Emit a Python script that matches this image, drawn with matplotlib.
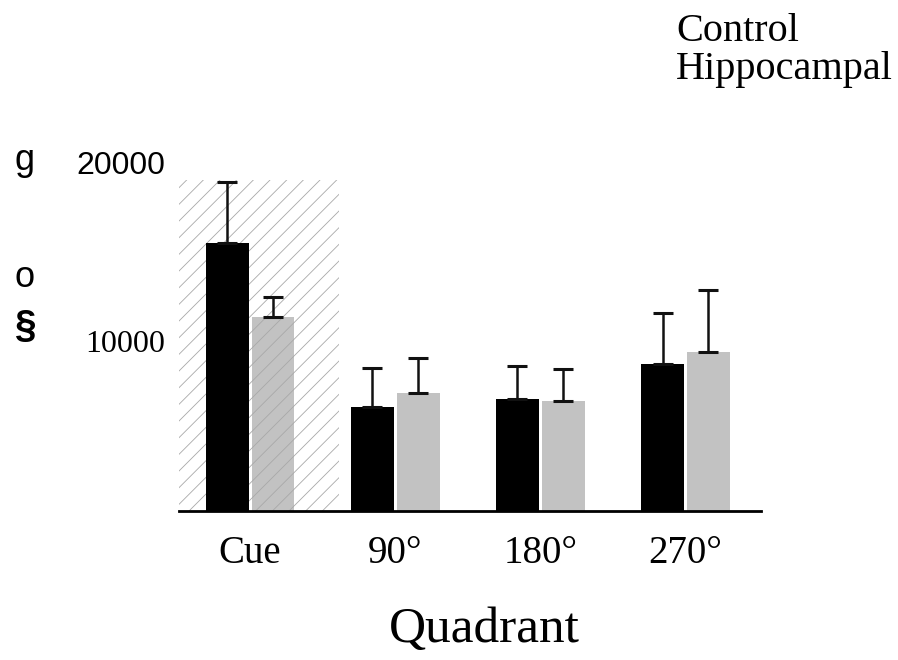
import numpy as np
import matplotlib.pyplot as plt
from matplotlib.patches import Rectangle
from matplotlib.transforms import ScaledTranslation

quadrants = ['Cue', '90°', '180°', '270°']
control = [15050, 5850, 6300, 8250]
control_err = [3450, 2200, 1850, 2850]
hippocampal = [10900, 6650, 6200, 8950]
hippocampal_err = [1100, 1950, 1800, 3450]
series_names = ['Control', 'Hippocampal']
yticks = [10000, 20000]
yticklabels = ['10000', '20000']
# shaded target zone behind the cue quadrant (x from, x to, height)
zone = [-0.49, 0.61, 18600]

plt.rcParams['hatch.linewidth'] = 0.6

fig = plt.figure(figsize=(8.98, 6.60), dpi=100)
ax = fig.add_axes([179 / 898, 149 / 660, 582 / 898, 356 / 660])

x = np.arange(len(quadrants))
w = 0.295
off = 0.158

# zone hatch sits over the grey bars but under the black ones
b1 = ax.bar(x - off, control, width=w, color='black', linewidth=0, zorder=3)
b2 = ax.bar(x + off, hippocampal, width=w, color='#c2c2c2', linewidth=0, zorder=2)
ax.add_patch(Rectangle((zone[0], 0), zone[1] - zone[0], zone[2], facecolor='none',
                       edgecolor='#a8a8a8', linewidth=0, hatch='//', zorder=2.5))

ekw = dict(fmt='none', ecolor='#111111', elinewidth=1.8, capsize=7, capthick=2.2, zorder=3.5)
ax.errorbar(x - off, control, yerr=[np.zeros(4), control_err], **ekw)
ax.errorbar(x + off, hippocampal, yerr=[np.zeros(4), hippocampal_err], **ekw)

ax.set_xlim(-0.49, 3.52)
ax.set_ylim(0, 20000)

for s in ['top', 'right', 'left']:
    ax.spines[s].set_visible(False)
ax.spines['bottom'].set_linewidth(2)
ax.spines['bottom'].set_zorder(4)

ax.set_xticks(x)
ax.set_xticklabels(quadrants, fontfamily='Liberation Serif', fontsize=28)
ax.tick_params(axis='x', length=0, pad=17)

ax.set_yticks(yticks)
ax.set_yticklabels(yticklabels, fontsize=23)
ax.tick_params(axis='y', length=0, pad=10)
ylabs = ax.get_yticklabels()
ylabs[0].set_fontfamily('Liberation Serif')
ylabs[1].set_fontfamily('Liberation Sans')
shift = ScaledTranslation(0, -7.5 / 100, fig.dpi_scale_trans)
for lab in ylabs:
    lab.set_transform(lab.get_transform() + shift)

ax.set_xlabel('Quadrant', fontfamily='Liberation Serif', fontsize=37, va='center')
ax.xaxis.set_label_coords((484 - 179) / 582, (511 - 630) / 356)

# left-side label fragments
fig.text(24 / 898, 1 - 160 / 660, 'g', fontfamily='Liberation Sans', fontsize=26, ha='center', va='center')
fig.text(25 / 898, 1 - 278 / 660, 'o', fontfamily='Liberation Sans', fontsize=26, ha='center', va='center')
fig.text(26 / 898, 1 - 327 / 660, '§', fontfamily='Liberation Sans', fontsize=28, fontweight='bold', ha='center', va='center')

leg = ax.legend([b1, b2], series_names, loc='upper left', bbox_to_anchor=(656 / 898, 1 + 7 / 660),
                bbox_transform=fig.transFigure, frameon=False, handlelength=0, handletextpad=0,
                borderpad=0, labelspacing=0.0, prop={'family': 'Liberation Serif', 'size': 29})
for h in leg.legend_handles:
    h.set_visible(False)

fig.savefig('out.png', dpi=100)
